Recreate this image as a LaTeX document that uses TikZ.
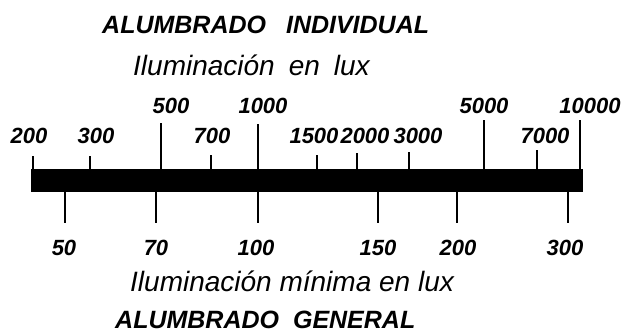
\documentclass[tikz,border=0pt]{standalone}
\usepackage{fontspec}
\setmainfont{Liberation Sans}
\usetikzlibrary{positioning}
\tikzset{>=latex}
\tikzset{
  scaletick/.style={line width=2.8pt},
  numlabel/.style={font=\fontsize{22}{22}\selectfont\bfseries\itshape, inner sep=0pt, anchor=base},
  headlabel/.style={font=\fontsize{25}{26}\selectfont\bfseries\itshape, inner sep=0pt, anchor=base west},
  sublabel/.style={font=\fontsize{28}{29}\selectfont\itshape, inner sep=0pt, anchor=base west},
}

\begin{document}
\begin{tikzpicture}[x=1pt,y=-1pt]
  \useasboundingbox (0,0) rectangle (623,333);
  % titles
  \node[headlabel] (indiv) at (102,33) {ALUMBRADO\hspace{20pt}INDIVIDUAL};
  \node[sublabel] (luxind) at (133,75) {Iluminación\hspace{14pt}en\hspace{14pt}lux};
  \node[sublabel] (luxmin) at (130,291) {Iluminación mínima en lux};
  \node[headlabel] (gener) at (115,328) {ALUMBRADO\hspace{14pt}GENERAL};
  % the bar
  \fill (31,169) rectangle (583,192);
  % upper scale: x / top of tick / label / label x / label baseline
  \foreach \x/\top/\lab/\lx/\ly in {33/156/200/29/143, 90/156/300/96/143,
      161/123/500/171/113, 211/155/700/212/143, 258/124/1000/263/113,
      317/155/1500/314/143, 357/153/2000/365/143, 409/152/3000/418/143,
      484/120/5000/484/113, 537/150/7000/545/143, 580/120/10000/590/113}
  {
    \draw[scaletick] (\x,170) -- (\x,\top);
    \node[numlabel] (up\lab) at (\lx,\ly) {\lab};
  }
  % lower scale
  \foreach \x/\lab/\lx in {65/50/64, 156/70/156, 258/100/256,
      378/150/378, 457/200/458, 568/300/565}
  {
    \draw[scaletick] (\x,191) -- (\x,223);
    \node[numlabel] (low\lab) at (\lx,255) {\lab};
  }
\end{tikzpicture}
\end{document}
